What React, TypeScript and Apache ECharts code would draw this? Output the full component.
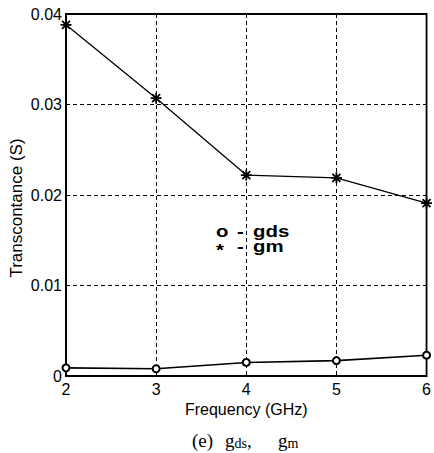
import React, { useEffect, useRef } from "react";
import * as echarts from "echarts";

const frequencies = [2, 3, 4, 5, 6];
const gmValues = [0.0388, 0.0307, 0.0222, 0.0219, 0.0191];
const gdsValues = [0.0009, 0.0008, 0.0015, 0.0017, 0.0023];
const yTicks = [0, 0.01, 0.02, 0.03, 0.04];

const FONT = "Liberation Sans, Arial, sans-serif";
const SERIF = "Liberation Serif, Times New Roman, serif";
const ASTERISK = "path://M0,-5L0,5M-5,0L5,0M-3.6,-3.6L3.6,3.6M-3.6,3.6L3.6,-3.6";

export default function App() {
  const ref = useRef<HTMLDivElement>(null);
  useEffect(() => {
    if (!ref.current) return;
    const chart = echarts.init(ref.current, undefined, { renderer: "svg" });
    const pair = (vals: number[]) => frequencies.map((f, i) => [f, vals[i]]);
    const legendText = (text: string, x: number, y: number, scaleX = 1, size = 17) => ({
      type: "text",
      x,
      y,
      scaleX,
      style: {
        text,
        fontFamily: FONT,
        fontSize: size,
        fontWeight: "bold",
        fill: "#000",
        align: "left",
        verticalAlign: "middle",
      },
    });
    chart.setOption({
      animation: false,
      backgroundColor: "#fff",
      grid: {
        left: 66,
        right: 4,
        top: 14,
        bottom: 77,
        show: true,
        borderColor: "#000",
        borderWidth: 1.8,
        backgroundColor: "transparent",
      },
      xAxis: {
        type: "value",
        min: 2,
        max: 6,
        interval: 1,
        name: "Frequency (GHz)",
        nameLocation: "middle",
        nameGap: 22,
        nameTextStyle: { fontFamily: FONT, fontSize: 16, color: "#000" },
        axisLine: { show: true, lineStyle: { color: "#000", width: 1.8 } },
        axisTick: { show: true, inside: true, length: 4, lineStyle: { color: "#000" } },
        axisLabel: { fontFamily: FONT, fontSize: 16, color: "#000", margin: 5 },
        splitLine: { show: true, lineStyle: { color: "#000", type: [4, 3], width: 1 } },
      },
      yAxis: {
        type: "value",
        min: 0,
        max: 0.04,
        interval: 0.01,
        axisLine: { show: true, lineStyle: { color: "#000", width: 1.8 } },
        axisTick: { show: true, inside: true, length: 4, lineStyle: { color: "#000" } },
        axisLabel: {
          fontFamily: FONT,
          fontSize: 16,
          color: "#000",
          margin: 4,
          formatter: (v: number) => {
            const t = yTicks.find((x) => Math.abs(x - v) < 1e-9);
            return t === 0 ? "0" : (t ?? v).toFixed(2);
          },
        },
        splitLine: { show: true, lineStyle: { color: "#000", type: [4, 3], width: 1 } },
      },
      series: [
        {
          name: "gm",
          type: "line",
          data: pair(gmValues),
          symbol: ASTERISK,
          symbolSize: 11,
          lineStyle: { color: "#000", width: 1.3 },
          itemStyle: { color: "transparent", borderColor: "#000", borderWidth: 1.8 },
          z: 5,
        },
        {
          name: "gds",
          type: "line",
          data: pair(gdsValues),
          symbol: "emptyCircle",
          symbolSize: 7,
          lineStyle: { color: "#000", width: 1.6 },
          itemStyle: { color: "#000", borderColor: "#000", borderWidth: 1.6 },
          z: 5,
        },
      ],
      graphic: [
        {
          type: "text",
          x: 16,
          y: 208,
          rotation: Math.PI / 2,
          style: {
            text: "Transcontance (S)",
            fontFamily: FONT,
            fontSize: 17,
            fill: "#000",
            align: "center",
            verticalAlign: "middle",
          },
        },
        legendText("o", 216, 231, 1.2),
        legendText("-", 237, 231, 1.2),
        legendText("gds", 253, 231, 1.2),
        legendText("*", 216, 250, 1.2),
        legendText("-", 237, 246, 1.2),
        legendText("gm", 253, 246, 1.2),
        {
          type: "text",
          x: 192,
          y: 440,
          style: {
            text: "(e)",
            fontFamily: SERIF,
            fontSize: 19,
            fill: "#000",
            align: "left",
            verticalAlign: "middle",
          },
        },
        {
          type: "text",
          x: 225,
          y: 440,
          style: {
            text: "g{s|ds},",
            fontFamily: SERIF,
            fontSize: 19,
            fill: "#000",
            align: "left",
            verticalAlign: "middle",
            rich: { s: { fontFamily: SERIF, fontSize: 14, padding: [6, 0, 0, 0], fill: "#000" } },
          },
        },
        {
          type: "text",
          x: 278,
          y: 440,
          style: {
            text: "g{s|m}",
            fontFamily: SERIF,
            fontSize: 19,
            fill: "#000",
            align: "left",
            verticalAlign: "middle",
            rich: { s: { fontFamily: SERIF, fontSize: 14, padding: [6, 0, 0, 0], fill: "#000" } },
          },
        },
      ],
    });
    return () => chart.dispose();
  }, []);
  return (
    <div
      ref={ref}
      style={{ position: "fixed", left: 0, top: 0, width: 434, height: 453 }}
    />
  );
}
